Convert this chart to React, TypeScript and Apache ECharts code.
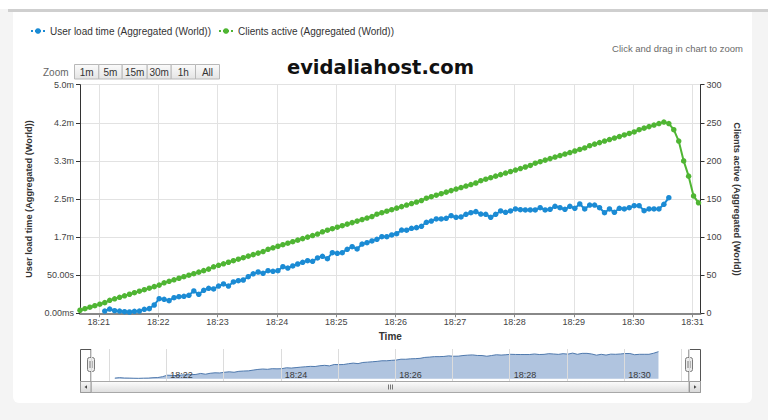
import React, { useEffect, useRef } from "react";
import * as echarts from "echarts";

// ---------- data ----------
const TIMES = [
  "18:20:41", "18:20:46", "18:20:51", "18:20:56",
  "18:21:01", "18:21:06", "18:21:11", "18:21:16", "18:21:21", "18:21:26", "18:21:31", "18:21:36", "18:21:41", "18:21:46", "18:21:51", "18:21:56",
  "18:22:01", "18:22:06", "18:22:11", "18:22:16", "18:22:21", "18:22:26", "18:22:31", "18:22:36", "18:22:41", "18:22:46", "18:22:51", "18:22:56",
  "18:23:01", "18:23:06", "18:23:11", "18:23:16", "18:23:21", "18:23:26", "18:23:31", "18:23:36", "18:23:41", "18:23:46", "18:23:51", "18:23:56",
  "18:24:01", "18:24:06", "18:24:11", "18:24:16", "18:24:21", "18:24:26", "18:24:31", "18:24:36", "18:24:41", "18:24:46", "18:24:51", "18:24:56",
  "18:25:01", "18:25:06", "18:25:11", "18:25:16", "18:25:21", "18:25:26", "18:25:31", "18:25:36", "18:25:41", "18:25:46", "18:25:51", "18:25:56",
  "18:26:01", "18:26:06", "18:26:11", "18:26:16", "18:26:21", "18:26:26", "18:26:31", "18:26:36", "18:26:41", "18:26:46", "18:26:51", "18:26:56",
  "18:27:01", "18:27:06", "18:27:11", "18:27:16", "18:27:21", "18:27:26", "18:27:31", "18:27:36", "18:27:41", "18:27:46", "18:27:51", "18:27:56",
  "18:28:01", "18:28:06", "18:28:11", "18:28:16", "18:28:21", "18:28:26", "18:28:31", "18:28:36", "18:28:41", "18:28:46", "18:28:51", "18:28:56",
  "18:29:01", "18:29:06", "18:29:11", "18:29:16", "18:29:21", "18:29:26", "18:29:31", "18:29:36", "18:29:41", "18:29:46", "18:29:51", "18:29:56",
  "18:30:01", "18:30:06", "18:30:11", "18:30:16", "18:30:21", "18:30:26", "18:30:31", "18:30:36", "18:30:41", "18:30:46", "18:30:51", "18:30:56",
  "18:31:01", "18:31:06",
];

// Clients active (right axis)
const CLIENTS_ACTIVE = [
  4, 6, 8, 10, 12, 14, 17, 19, 21, 23,
  25, 27, 29, 31, 33, 35, 37, 40, 42, 44,
  46, 48, 50, 52, 54, 56, 58, 61, 63, 65,
  67, 69, 71, 73, 75, 77, 79, 81, 84, 86,
  88, 90, 92, 94, 96, 98, 100, 102, 104, 107,
  109, 111, 113, 115, 117, 119, 121, 123, 125, 127,
  130, 132, 134, 136, 138, 140, 142, 144, 146, 148,
  151, 153, 155, 157, 159, 161, 163, 165, 167, 169,
  171, 174, 176, 178, 180, 182, 184, 186, 188, 190,
  192, 194, 197, 199, 201, 203, 205, 207, 209, 211,
  213, 215, 217, 220, 222, 224, 226, 228, 230, 232,
  234, 236, 238, 241, 243, 245, 247, 249, 251,
  249, 241, 226, 200, 180, 154, 145,
];

// User load time in ms (left axis)
const LOAD_TIME_MS: (number | null)[] = [
  null, null, null, null, null,
  3000, 5600, 3400, 3000, 2100, 1700, 2600, 3000, 5200, 6100,
  10900, 19200, 18400, 16600, 20500, 21800, 22300, 23600, 29300, 24900,
  30200, 32800, 31900, 35800, 38500, 35800, 41100, 42800, 43700, 48000,
  51800, 54200, 52500, 55900, 55100, 55900, 61200, 59400, 62100, 64700,
  66900, 69000, 68200, 72600, 74800, 71700, 79500, 78700, 79500, 84000,
  87400, 84400, 90900, 92700, 94900, 97100, 100500, 100500, 102800, 104500,
  109300, 109000, 111500, 112400, 114200, 119400, 121100, 123800, 123800, 124700,
  128100, 126000, 126400, 129900, 132000, 133400, 130300, 129900, 126000, 129900,
  134300, 132500, 134300, 136900, 136000, 135600, 135600, 135600, 138600, 135600,
  136500, 140400, 138600, 136500, 140400, 137800, 143500, 136900, 142100, 142100,
  138600, 132000, 136900, 132500, 137800, 136900, 138600, 141200, 141200, 134700,
  136900, 136900, 136900, 143000, 151700,
  null, null, null, null, null, null,
];

const LEFT_TICK_LABELS = ["0.00ms", "50.00s", "1.7m", "2.5m", "3.3m", "4.2m", "5.0m"];
const X_MIN = "18:20:41";
const X_MAX = "18:31:08";
const ZOOM_BUTTONS = ["1m", "5m", "15m", "30m", "1h", "All"];

const SERIES_LOAD = "User load time (Aggregated (World))";
const SERIES_CLIENTS = "Clients active (Aggregated (World))";

// ---------- helpers ----------
const toTs = (s: string) => {
  const [h, m, sec] = s.split(":").map(Number);
  return Date.UTC(2013, 0, 1, h, m, sec || 0);
};
const pad = (n: number) => (n < 10 ? "0" + n : "" + n);
const hhmm = (v: number) => {
  const d = new Date(v);
  return pad(d.getUTCHours()) + ":" + pad(d.getUTCMinutes());
};

const FONT = '"Liberation Sans", Arial, sans-serif';
const BLUE = "#1b8bd4";
const GREEN = "#4fb533";

// layout constants (px)
const BTN_EDGES = [74, 98.3, 121.7, 146.7, 170.7, 195, 219];

export default function App() {
  const ref = useRef<HTMLDivElement>(null);

  useEffect(() => {
    if (!ref.current) return;
    const chart = echarts.init(ref.current, null, { renderer: "svg" });

    const loadData = TIMES.map((t, i) => [toTs(t), LOAD_TIME_MS[i]]).filter((p) => p[1] !== null);
    const clientData = TIMES.map((t, i) => [toTs(t), CLIENTS_ACTIVE[i]]);

    const buttons: any[] = [];
    ZOOM_BUTTONS.forEach((label, i) => {
      const x0 = BTN_EDGES[i];
      const x1 = BTN_EDGES[i + 1];
      buttons.push({
        type: "rect",
        shape: { x: x0 + 0.5, y: 64.5, width: x1 - x0, height: 14.5 },
        style: {
          fill: { type: "linear", x: 0, y: 0, x2: 0, y2: 1, colorStops: [{ offset: 0, color: "#fbfbfb" }, { offset: 1, color: "#e4e4e4" }] },
          stroke: "#b8b8b8",
          lineWidth: 1,
        },
      });
      buttons.push({
        type: "text",
        x: (x0 + x1) / 2 + 0.5,
        y: 72,
        style: { text: label, fill: "#333", font: "10px " + FONT, textAlign: "center", textVerticalAlign: "middle", align: "center", verticalAlign: "middle" },
      });
    });

    const handle = (cx: number) => [
      {
        type: "rect",
        shape: { x: cx - 3.5, y: 357.5, width: 7, height: 14, r: 2 },
        style: { fill: "#ececec", stroke: "#7a7a7a", lineWidth: 1 },
      },
      { type: "line", shape: { x1: cx - 1, y1: 361, x2: cx - 1, y2: 368 }, style: { stroke: "#7a7a7a", lineWidth: 1 } },
      { type: "line", shape: { x1: cx + 1, y1: 361, x2: cx + 1, y2: 368 }, style: { stroke: "#7a7a7a", lineWidth: 1 } },
    ];

    const option: any = {
      animation: false,
      useUTC: true,
      textStyle: { fontFamily: FONT },
      legend: {
        left: 30,
        top: 26,
        padding: 0,
        itemWidth: 14,
        itemHeight: 7,
        itemGap: 7,
        selectedMode: false,
        lineStyle: { type: "dotted", width: 2 },
        textStyle: { fontSize: 10, color: "#333", fontFamily: FONT },
        data: [SERIES_LOAD, SERIES_CLIENTS],
      },
      grid: [
        { left: 80, top: 84.7, width: 620.5, height: 228.6 },
        { left: 91, top: 349, width: 598, height: 32 },
      ],
      xAxis: [
        {
          type: "time",
          gridIndex: 0,
          min: toTs(X_MIN),
          max: toTs(X_MAX),
          minInterval: 60000,
          maxInterval: 60000,
          name: "Time",
          nameLocation: "middle",
          nameGap: 17,
          nameTextStyle: { fontSize: 10, fontWeight: "bold", color: "#333", fontFamily: FONT },
          axisLine: { show: true, lineStyle: { color: "#888", width: 2 } },
          axisTick: { show: true, length: 4, lineStyle: { color: "#888" } },
          splitLine: { show: true, lineStyle: { color: "#e2e2e2", width: 1 } },
          axisLabel: {
            fontSize: 9,
            color: "#444",
            margin: 4,
            showMinLabel: false,
            showMaxLabel: false,
            hideOverlap: false,
            formatter: (v: number) => (v % 60000 === 0 ? hhmm(v) : ""),
          },
        },
        {
          type: "time",
          gridIndex: 1,
          z: 5,
          min: toTs(X_MIN),
          max: toTs(X_MAX),
          minInterval: 120000,
          maxInterval: 120000,
          axisLine: { show: false },
          axisTick: { show: false },
          splitLine: { show: true, lineStyle: { color: "#dcdcdc", width: 1 } },
          axisLabel: {
            inside: true,
            interval: 0,
            hideOverlap: false,
            fontSize: 9,
            color: "#3a3a3a",
            margin: 2,
            align: "left",
            padding: [0, 0, 0, 4],
            showMinLabel: false,
            showMaxLabel: false,
            formatter: (v: number) => (v % 120000 === 0 ? hhmm(v) : ""),
          },
        },
      ],
      yAxis: [
        {
          type: "value",
          gridIndex: 0,
          position: "left",
          min: 0,
          max: 300000,
          interval: 50000,
          name: SERIES_LOAD,
          nameLocation: "middle",
          nameRotate: 90,
          nameGap: 41,
          nameTextStyle: { fontSize: 9.2, fontWeight: "bold", color: "#333", fontFamily: FONT },
          axisLine: { show: true, lineStyle: { color: "#333", width: 1 } },
          axisTick: { show: true, length: 4, lineStyle: { color: "#333" } },
          splitLine: { show: true, lineStyle: { color: "#e2e2e2", width: 1 } },
          axisLabel: {
            fontSize: 9,
            color: "#444",
            margin: 6,
            formatter: (v: number) => LEFT_TICK_LABELS[Math.round(v / 50000)] ?? "",
          },
        },
        {
          type: "value",
          gridIndex: 0,
          position: "right",
          min: 0,
          max: 300,
          interval: 50,
          name: SERIES_CLIENTS,
          nameLocation: "middle",
          nameRotate: -90,
          nameGap: 29,
          nameTextStyle: { fontSize: 9.2, fontWeight: "bold", color: "#333", fontFamily: FONT },
          axisLine: { show: true, lineStyle: { color: "#333", width: 1 } },
          axisTick: { show: true, length: 4, lineStyle: { color: "#333" } },
          splitLine: { show: false },
          axisLabel: { fontSize: 9, color: "#444", margin: 6 },
        },
        {
          type: "value",
          gridIndex: 1,
          min: -13300,
          max: 166700,
          show: false,
          splitLine: { show: false },
        },
      ],
      series: [
        {
          name: SERIES_CLIENTS,
          type: "line",
          xAxisIndex: 0,
          yAxisIndex: 1,
          data: clientData,
          symbol: "circle",
          symbolSize: 5.5,
          showSymbol: true,
          showAllSymbol: true,
          lineStyle: { color: GREEN, width: 2 },
          itemStyle: { color: GREEN },
          emphasis: { disabled: true },
          z: 3,
        },
        {
          name: SERIES_LOAD,
          type: "line",
          xAxisIndex: 0,
          yAxisIndex: 0,
          data: loadData,
          symbol: "circle",
          symbolSize: 5.5,
          showSymbol: true,
          showAllSymbol: true,
          lineStyle: { color: BLUE, width: 2 },
          itemStyle: { color: BLUE },
          emphasis: { disabled: true },
          z: 4,
        },
        {
          name: "navigator",
          type: "line",
          xAxisIndex: 1,
          yAxisIndex: 2,
          data: loadData,
          showSymbol: false,
          symbol: "none",
          silent: true,
          lineStyle: { color: "#4f79ad", width: 1 },
          areaStyle: { color: "#b0c4df", opacity: 1 },
          emphasis: { disabled: true },
          z: 2,
        },
      ],
      graphic: [
        {
          type: "text",
          x: 743,
          y: 48,
          style: { text: "Click and drag in chart to zoom", fill: "#6a6a6a", font: "9.5px " + FONT, textAlign: "right", textVerticalAlign: "middle", align: "right", verticalAlign: "middle" },
        },
        {
          type: "text",
          x: 380.5,
          y: 67,
          style: { text: "evidaliahost.com", fill: "#111", font: 'bold 19.5px "DejaVu Sans", Verdana, sans-serif', textAlign: "center", textVerticalAlign: "middle", align: "center", verticalAlign: "middle" },
        },
        {
          type: "text",
          x: 43,
          y: 72.5,
          style: { text: "Zoom", fill: "#666", font: "10px " + FONT, textAlign: "left", textVerticalAlign: "middle", align: "left", verticalAlign: "middle" },
        },
        ...buttons,
        // navigator outline
        {
          type: "polyline",
          shape: { points: [[80.5, 392.5], [80.5, 349.5], [91, 349.5], [91, 381]] },
          style: { stroke: "#555", lineWidth: 1, fill: "none" },
        },
        {
          type: "polyline",
          shape: { points: [[689, 381], [689, 349.5], [700.5, 349.5], [700.5, 392.5]] },
          style: { stroke: "#555", lineWidth: 1, fill: "none" },
        },
        // scrollbar
        {
          type: "rect",
          shape: { x: 80.5, y: 381.5, width: 620, height: 11 },
          style: { fill: "#eeeeee", stroke: "#b0b0b0", lineWidth: 1 },
        },
        {
          type: "rect",
          shape: { x: 91, y: 381.5, width: 598, height: 11 },
          style: {
            fill: { type: "linear", x: 0, y: 0, x2: 0, y2: 1, colorStops: [{ offset: 0, color: "#fdfdfd" }, { offset: 1, color: "#dedede" }] },
            stroke: "#a8a8a8",
            lineWidth: 1,
          },
        },
        {
          type: "rect",
          shape: { x: 80.5, y: 381.5, width: 10.5, height: 11 },
          style: { fill: { type: "linear", x: 0, y: 0, x2: 0, y2: 1, colorStops: [{ offset: 0, color: "#f6f6f6" }, { offset: 1, color: "#d8d8d8" }] }, stroke: "#9a9a9a", lineWidth: 1 },
        },
        {
          type: "rect",
          shape: { x: 689.5, y: 381.5, width: 11, height: 11 },
          style: { fill: { type: "linear", x: 0, y: 0, x2: 0, y2: 1, colorStops: [{ offset: 0, color: "#f6f6f6" }, { offset: 1, color: "#d8d8d8" }] }, stroke: "#9a9a9a", lineWidth: 1 },
        },
        { type: "polygon", shape: { points: [[84.5, 387], [87, 385.2], [87, 388.8]] }, style: { fill: "#444" } },
        { type: "polygon", shape: { points: [[696.5, 387], [694, 385.2], [694, 388.8]] }, style: { fill: "#444" } },
        { type: "line", shape: { x1: 388.5, y1: 384.5, x2: 388.5, y2: 389.5 }, style: { stroke: "#777", lineWidth: 1 } },
        { type: "line", shape: { x1: 390.5, y1: 384.5, x2: 390.5, y2: 389.5 }, style: { stroke: "#777", lineWidth: 1 } },
        { type: "line", shape: { x1: 392.5, y1: 384.5, x2: 392.5, y2: 389.5 }, style: { stroke: "#777", lineWidth: 1 } },
        ...handle(91),
        ...handle(689),
      ],
    };

    chart.setOption(option);
    return () => chart.dispose();
  }, []);

  return (
    <div style={{ position: "fixed", left: 0, top: 0, width: 768, height: 420, background: "#f4f4f4", overflow: "hidden" }}>
      <div style={{ position: "absolute", left: 0, top: 0, width: 768, height: 9, background: "#ffffff" }} />
      <div style={{ position: "absolute", left: 8, top: 9, width: 760, height: 3, background: "#cfcfcf" }} />
      <div style={{ position: "absolute", left: 13, top: 12, width: 739, height: 391, background: "#ffffff", borderRadius: "0 0 6px 6px" }} />
      <div ref={ref} style={{ position: "absolute", left: 0, top: 0, width: 768, height: 420 }} />
    </div>
  );
}
